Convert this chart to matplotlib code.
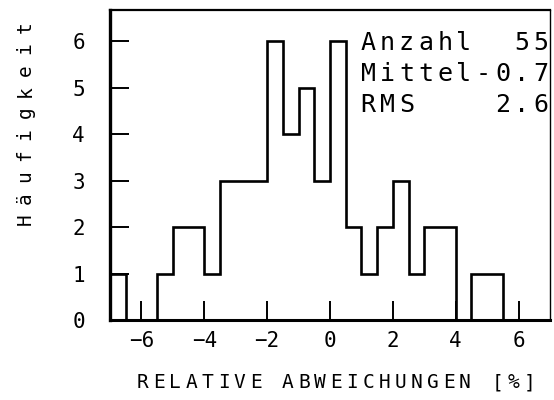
import matplotlib.pyplot as plt
import numpy as np

# histogram counts, bins of width 0.5 from -7 to 7
counts = [1, 0, 0, 1, 2, 2, 1, 3, 3, 3, 6, 4, 5, 3,
          6, 2, 1, 2, 3, 1, 2, 2, 0, 1, 1, 0, 0, 0]
x_lo, x_hi = -7, 7
x_ticks = [-6, -4, -2, 0, 2, 4, 6]
y_ticks = [0, 1, 2, 3, 4, 5, 6]
stats_rows = ["Anzahl  55", "Mittel-0.7", "RMS    2.6"]
x_label = "RELATIVE ABWEICHUNGEN [%]"
y_label = "Häufigkeit"

W, H = 554, 400
MONO = "DejaVu Sans Mono"


def spaced_text(fig, x0, y0, s, pitch, size, vertical=False):
    # draw text one char per fixed cell, positions in pixels from top-left
    for i, ch in enumerate(s):
        if vertical:
            x, y, rot = x0, y0 - i * pitch, 90
        else:
            x, y, rot = x0 + i * pitch, y0, 0
        fig.text(x / W, 1 - y / H, ch, ha="center", va="center",
                 rotation=rot, fontsize=size, family=MONO, color="black")


fig = plt.figure(figsize=(W / 100, H / 100), dpi=100)
ax = fig.add_axes([110 / W, 80 / H, 440 / W, 310 / H])

edges = np.linspace(x_lo, x_hi, len(counts) + 1)
ax.stairs(counts, edges, color="black", lw=1.9)

ax.set_xlim(x_lo, x_hi)
ax.set_ylim(0, 6.67)
ax.set_xticks(x_ticks)
ax.set_yticks(y_ticks)
ax.tick_params(direction="in", length=14, width=1.4, labelsize=15)
ax.tick_params(axis="x", pad=8)
ax.tick_params(axis="y", pad=18)
for lab in ax.get_xticklabels() + ax.get_yticklabels():
    lab.set_family(MONO)

ax.spines["left"].set_linewidth(2.4)
ax.spines["bottom"].set_linewidth(2.2)
ax.spines["top"].set_linewidth(1.6)
ax.spines["right"].set_linewidth(1.0)

# statistics box
for r, row in enumerate(stats_rows):
    spaced_text(fig, 368, 43 + r * 31, row, 19.2, 18)

spaced_text(fig, 143, 383, x_label, 16.1, 14)
spaced_text(fig, 25, 219, y_label, 21.3, 14, vertical=True)

fig.savefig("out.png", dpi=100)
